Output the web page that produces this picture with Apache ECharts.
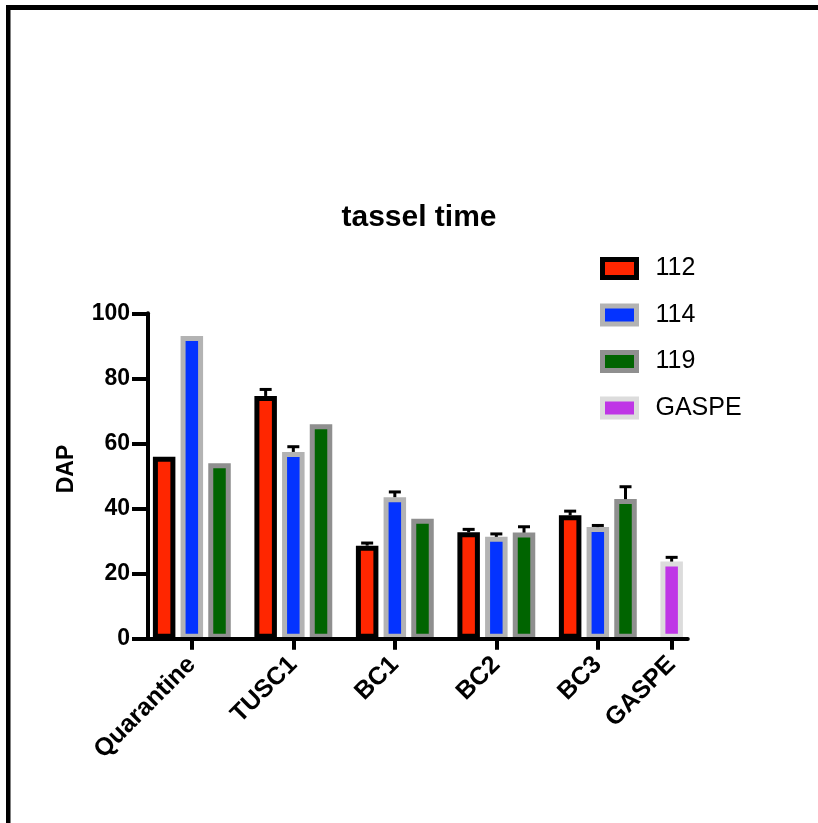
<!DOCTYPE html>
<html><head><meta charset="utf-8">
<script src="https://cdn.jsdelivr.net/npm/echarts@6/dist/echarts.min.js"></script>
<style>html,body{margin:0;padding:0;background:#fff}#c{width:818px;height:823px}</style>
</head><body><div id="c"></div>
<script>
// ---- data ----
const categories = ['Quarantine', 'TUSC1', 'BC1', 'BC2', 'BC3', 'GASPE'];
const seriesNames = ['112', '114', '119', 'GASPE'];
const values112 = [55.9, 74.6, 28.6, 32.7, 37.9, null];
const values114 = [93.0, 57.4, 43.5, 31.3, 34.3, null];
const values119 = [53.9, 65.9, 36.9, 32.6, 42.9, null];
const valuesGASPE = [null, null, null, null, null, 23.7];
const err112 = [0, 2.0, 0.8, 0.9, 1.3, null];
const err114 = [0, 1.6, 1.6, 0.9, 0.5, null];
const err119 = [0, 0, 0, 1.8, 3.8, null];
const errGASPE = [null, null, null, null, null, 1.3];
const yTicks = [0, 20, 40, 60, 80, 100];

// ---- styles ----
const FONT = "'Liberation Sans', Arial, Helvetica, sans-serif";
const fills = ['#ff2600', '#0433ff', '#006400', '#bf36e6'];
const borders = ['#000000', '#b3b3b3', '#8f8f8f', '#dcdcdc'];

// ---- slot layout (GraphPad-like grouped bars) ----
const allValues = [values112, values114, values119, valuesGASPE];
const allErr = [err112, err114, err119, errGASPE];
const SLOT = 6, GAP = 4, START = 3;
let cursor = START, lastSlot = 0;
const slotOf = allValues.map(() => []);
const labelSlot = [];
categories.forEach((c, g) => {
  const used = [];
  allValues.forEach((vals, s) => {
    if (vals[g] != null) { slotOf[s][g] = cursor; used.push(cursor); lastSlot = cursor; cursor += SLOT; }
  });
  labelSlot[g] = (used[0] + used[used.length - 1]) / 2;
  cursor += GAP;
});
const N = lastSlot + 1 + START;
const xData = new Array(N).fill('');
categories.forEach((c, g) => { xData[labelSlot[g]] = c; });
const showIdx = (i) => xData[i] !== '';

const barSeries = seriesNames.map((name, s) => ({
  name, type: 'bar', barWidth: 22.5, barGap: '-100%', z: 2,
  itemStyle: { color: fills[s], borderColor: borders[s], borderWidth: 5 },
  data: categories.map((c, g) => allValues[s][g] == null ? null : [slotOf[s][g], allValues[s][g]]).filter(Boolean)
}));
const errData = [];
allValues.forEach((vals, s) => categories.forEach((c, g) => {
  if (vals[g] != null && allErr[s][g]) errData.push([slotOf[s][g], vals[g], allErr[s][g]]);
}));

const chart = echarts.init(document.getElementById('c'), null, { renderer: 'canvas' });
chart.setOption({
  backgroundColor: '#fff',
  animation: false,
  textStyle: { fontFamily: FONT },
  title: {
    text: 'tassel time', left: 414, top: 198, textAlign: 'center',
    textStyle: { fontFamily: FONT, fontSize: 30, fontWeight: 'bold', color: '#000' }
  },
  legend: {
    orient: 'vertical', left: 595, top: 251, itemWidth: 34, itemHeight: 18, itemGap: 21.5,
    icon: 'rect', data: seriesNames, selectedMode: false,
    itemStyle: { borderWidth: 5 },
    textStyle: { fontFamily: FONT, fontSize: 25, color: '#000', padding: [0, 0, 0, 14] }
  },
  grid: { left: 148, width: 539.8, top: 313.3, height: 325.4, containLabel: false, outerBoundsMode: 'none' },
  xAxis: {
    type: 'category', data: xData, z: 3,
    axisLine: { show: true, lineStyle: { color: '#000', width: 4 } },
    axisTick: { show: true, length: 11, alignWithLabel: true, interval: showIdx, lineStyle: { color: '#000', width: 4 } },
    axisLabel: { show: true, interval: showIdx, rotate: 45, margin: 22, fontFamily: FONT, fontSize: 25, fontWeight: 'bold', color: '#000' },
    splitLine: { show: false }
  },
  yAxis: {
    type: 'value', min: yTicks[0], max: yTicks[yTicks.length - 1], interval: yTicks[1] - yTicks[0], z: 3,
    name: 'DAP', nameLocation: 'middle', nameRotate: 90, nameGap: 70,
    nameTextStyle: { fontFamily: FONT, fontSize: 23, fontWeight: 'bold', color: '#000', padding: [0, 0, 0, 14] },
    axisLine: { show: true, lineStyle: { color: '#000', width: 4 } },
    axisTick: { show: true, length: 16, lineStyle: { color: '#000', width: 4 } },
    axisLabel: { margin: 18, fontFamily: FONT, fontSize: 23, fontWeight: 'bold', color: '#000' },
    splitLine: { show: false }
  },
  graphic: [
    { type: 'rect', shape: { x: 6, y: 5, width: 812, height: 5 }, style: { fill: '#000' } },
    { type: 'rect', shape: { x: 6, y: 5, width: 4.5, height: 818 }, style: { fill: '#000' } }
  ],
  series: barSeries.concat([{
    type: 'custom', name: 'err', z: 4, silent: true,
    encode: { x: 0, y: 1 },
    renderItem: (params, api) => {
      const x = api.value(0), v = api.value(1), e = api.value(2);
      const b = api.coord([x, v]), t = api.coord([x, v + e]);
      return { type: 'group', children: [
        { type: 'line', shape: { x1: b[0], y1: b[1], x2: t[0], y2: t[1] }, style: { stroke: '#000', lineWidth: 3 } },
        { type: 'line', shape: { x1: t[0] - 6, y1: t[1], x2: t[0] + 6, y2: t[1] }, style: { stroke: '#000', lineWidth: 3 } }
      ] };
    },
    data: errData
  }])
});
</script></body></html>
